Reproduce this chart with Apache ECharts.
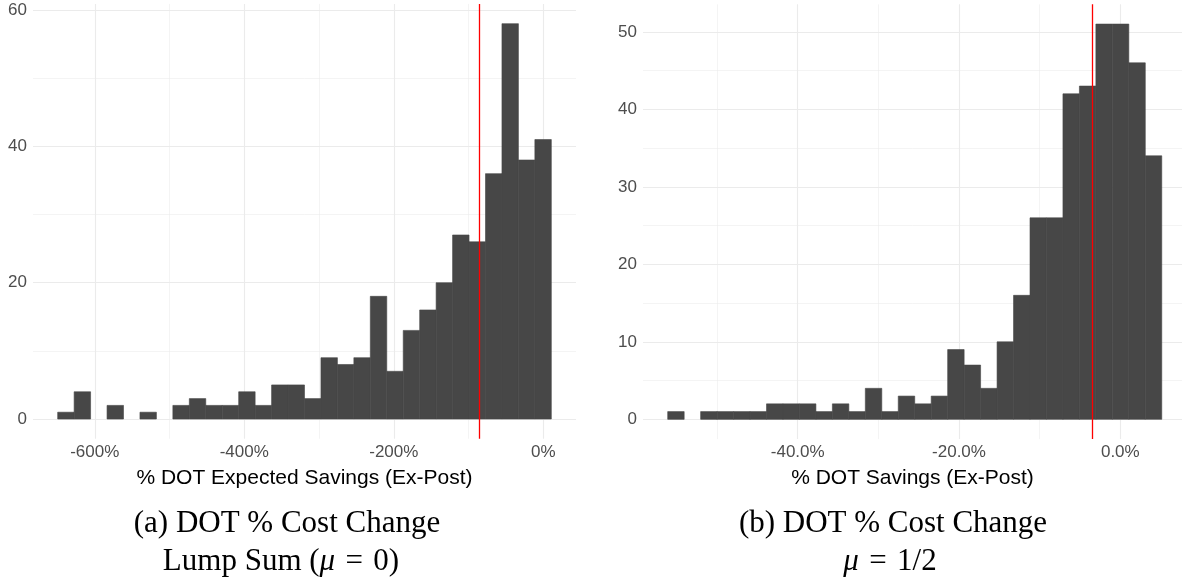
<!DOCTYPE html>
<html>
<head>
<meta charset="utf-8">
<script src="https://cdn.jsdelivr.net/npm/echarts@6/dist/echarts.min.js"></script>
<style>
  html, body { margin: 0; padding: 0; background: #ffffff; }
  #chart { width: 1182px; height: 581px; }
</style>
</head>
<body>
<div id="chart"></div>
<script>
// ---------- Panel (a): DOT Expected Savings, lump sum ----------
const leftCounts = [1, 4, 0, 2, 0, 1, 0, 2, 3, 2, 2, 4, 2, 5, 5, 3, 9, 8, 9, 18, 7, 13, 16, 20, 27, 26, 36, 58, 38, 41];
const leftBinStart = -649.6;   // % (left edge of first bin)
const leftBinWidth = 22.01;    // % per bin
const leftRedLine = -85.1;     // %
const leftXTicks = [-600, -400, -200, 0];
const leftXMinor = [-500, -300, -100];
const leftYTicks = [0, 20, 40, 60];
const leftYMinor = [10, 30, 50];
const leftXTitle = '% DOT Expected Savings (Ex-Post)';

// ---------- Panel (b): DOT Savings, mu = 1/2 ----------
const rightCounts = [1, 0, 1, 1, 1, 1, 2, 2, 2, 1, 2, 1, 4, 1, 3, 2, 3, 9, 7, 4, 10, 16, 26, 26, 42, 43, 51, 51, 46, 34];
const rightBinStart = -56.12;
const rightBinWidth = 2.042;
const rightRedLine = -3.47;
const rightXTicks = [-40, -20, 0];
const rightXMinor = [-50, -30, -10];
const rightYTicks = [0, 10, 20, 30, 40, 50];
const rightYMinor = [5, 15, 25, 35, 45];
const rightXTitle = '% DOT Savings (Ex-Post)';

// ---------- Build ----------
function bins(start, width, counts) {
  return counts.map((c, i) => [start + i * width, start + (i + 1) * width, c]);
}
const leftBins = bins(leftBinStart, leftBinWidth, leftCounts);
const rightBins = bins(rightBinStart, rightBinWidth, rightCounts);

// axis extents (ggplot 5% expansion)
function ext(lo, hi) { const d = (hi - lo) * 0.05; return [lo - d, hi + d]; }
const leftXExt = ext(leftBinStart, leftBinStart + leftBinWidth * leftCounts.length);
const leftYExt = ext(0, Math.max(...leftCounts));
const rightXExt = ext(rightBinStart, rightBinStart + rightBinWidth * rightCounts.length);
const rightYExt = ext(0, Math.max(...rightCounts));

const SANS = 'Liberation Sans';
const SERIF = '"Liberation Serif"';
const CAP_SIZE = 31;
const MAJOR = { color: '#ebebeb', width: 1.1, type: 'solid' };
const MINOR = { color: '#ebebeb', width: 0.55, type: 'solid' };

function gridLines(xMaj, xMin, yMaj, yMin) {
  const d = [];
  xMin.forEach(v => d.push({ xAxis: v, lineStyle: MINOR }));
  yMin.forEach(v => d.push({ yAxis: v, lineStyle: MINOR }));
  xMaj.forEach(v => d.push({ xAxis: v, lineStyle: MAJOR }));
  yMaj.forEach(v => d.push({ yAxis: v, lineStyle: MAJOR }));
  return d;
}

function renderBar(params, api) {
  if (api.value(2) <= 0) return null;
  const p0 = api.coord([api.value(0), api.value(2)]);
  const p1 = api.coord([api.value(1), 0]);
  return {
    type: 'rect',
    shape: { x: p0[0], y: p0[1], width: p1[0] - p0[0], height: p1[1] - p0[1] },
    style: { fill: '#474747', stroke: '#474747', lineWidth: 0.6 }
  };
}

function xAxis(idx, e, ticks, fmt, title) {
  return {
    type: 'value', gridIndex: idx, min: e[0], max: e[1],
    axisLine: { show: false }, axisTick: { show: false }, splitLine: { show: false },
    axisLabel: {
      customValues: ticks, formatter: fmt, margin: 5,
      color: '#4d4d4d', fontSize: 17, fontFamily: SANS
    },
    name: title, nameLocation: 'middle', nameGap: 29,
    nameTextStyle: { color: '#000', fontSize: 21, fontFamily: SANS }
  };
}
function yAxis(idx, e, ticks) {
  return {
    type: 'value', gridIndex: idx, min: e[0], max: e[1],
    axisLine: { show: false }, axisTick: { show: false }, splitLine: { show: false },
    axisLabel: {
      customValues: ticks, margin: 6,
      color: '#4d4d4d', fontSize: 17, fontFamily: SANS
    }
  };
}
function redLine(v) {
  return { z: 6, silent: true, symbol: ['none', 'none'], label: { show: false },
    lineStyle: { color: '#ff0000', width: 1.3, type: 'solid', opacity: 1 }, data: [{ xAxis: v }] };
}
function caption(x, y, rich) {
  return { type: 'text', x: x, y: y, style: { text: rich, align: 'center', verticalAlign: 'middle',
    rich: {
      n: { fontFamily: SERIF, fontSize: CAP_SIZE, fill: '#000' },
      i: { fontFamily: SERIF, fontSize: CAP_SIZE, fontStyle: 'italic', fill: '#000' }
    } } };
}

const chart = echarts.init(document.getElementById('chart'), null, { renderer: 'canvas' });
const option = {
  animation: false,
  backgroundColor: '#ffffff',
  grid: [
    { left: 33, top: 3.9, width: 543, height: 434.9 },
    { left: 643, top: 4.3, width: 539, height: 434.8 }
  ],
  xAxis: [
    xAxis(0, leftXExt, leftXTicks, v => v + '%', leftXTitle),
    xAxis(1, [rightXExt[0], 7.65], rightXTicks, v => v.toFixed(1) + '%', rightXTitle)
  ],
  yAxis: [
    yAxis(0, leftYExt, leftYTicks),
    yAxis(1, rightYExt, rightYTicks)
  ],
  series: [
    {
      type: 'line', xAxisIndex: 0, yAxisIndex: 0, data: [], z: 0,
      markLine: { z: 1, silent: true, symbol: ['none', 'none'], label: { show: false },
        data: gridLines(leftXTicks, leftXMinor, leftYTicks, leftYMinor) }
    },
    {
      type: 'custom', xAxisIndex: 0, yAxisIndex: 0, z: 2,
      renderItem: renderBar, data: leftBins, encode: { x: [0, 1], y: 2 },
      markLine: redLine(leftRedLine)
    },
    {
      type: 'line', xAxisIndex: 1, yAxisIndex: 1, data: [], z: 0,
      markLine: { z: 1, silent: true, symbol: ['none', 'none'], label: { show: false },
        data: gridLines(rightXTicks, rightXMinor, rightYTicks, rightYMinor) }
    },
    {
      type: 'custom', xAxisIndex: 1, yAxisIndex: 1, z: 2,
      renderItem: renderBar, data: rightBins, encode: { x: [0, 1], y: 2 },
      markLine: redLine(rightRedLine)
    }
  ],
  graphic: [
    caption(287, 524, '{n|(a) DOT % Cost Change}'),
    caption(281, 562, '{n|Lump Sum (}{i|μ}{n|\u200a = \u200a0)}'),
    caption(893, 524, '{n|(b) DOT % Cost Change}'),
    caption(890, 562, '{i|μ}{n|\u200a = \u200a1/2}')
  ]
};
chart.setOption(option);
</script>
</body>
</html>
